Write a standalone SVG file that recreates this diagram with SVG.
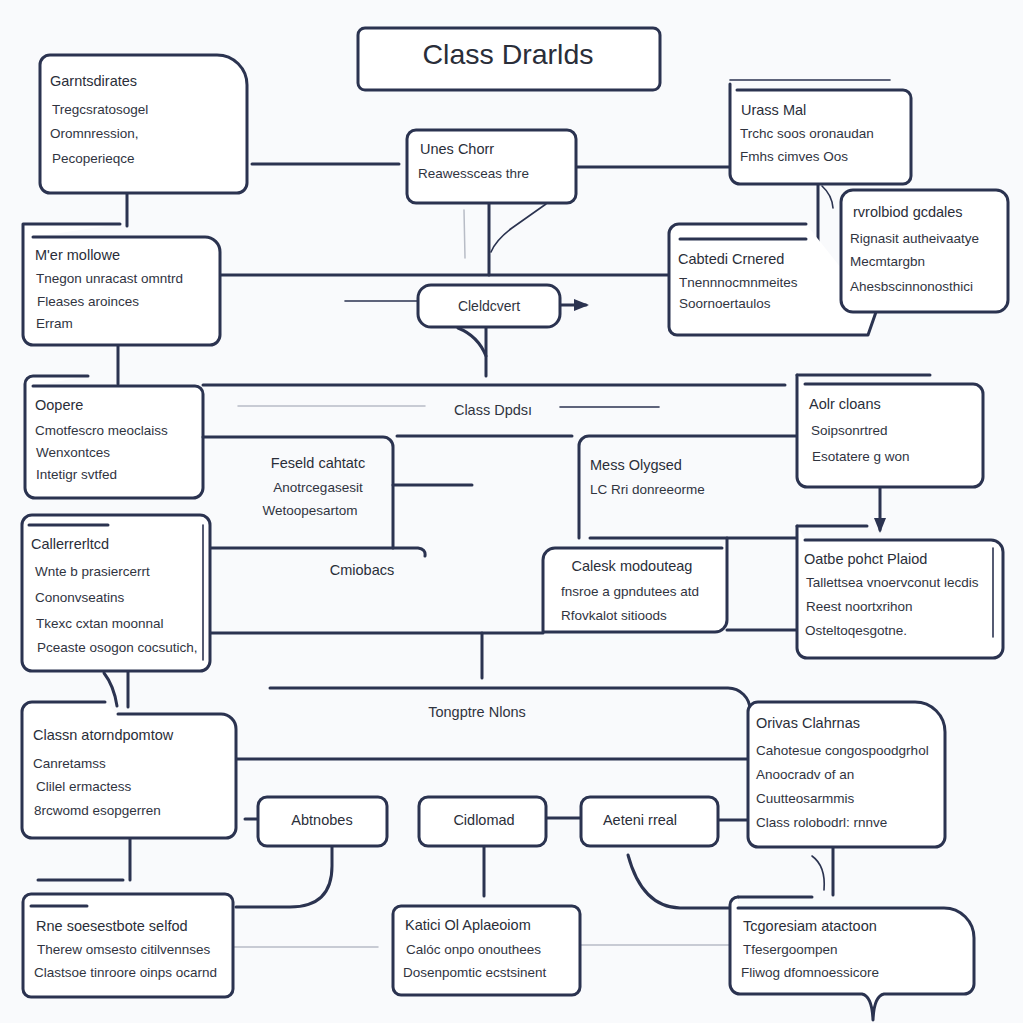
<svg xmlns="http://www.w3.org/2000/svg" width="1023" height="1023" viewBox="0 0 1023 1023">
<style>
.bx{fill:#ffffff;stroke:#2b3350;stroke-width:3;stroke-linejoin:round;stroke-linecap:round}
.ln{fill:none;stroke:#2b3350;stroke-width:3;stroke-linecap:round}
.th{fill:none;stroke:#2b3350;stroke-width:1.6;stroke-linecap:round}
.fa{fill:none;stroke:#b8bcc6;stroke-width:1.5;stroke-linecap:round}
text{font-family:"Liberation Sans",Arial,sans-serif;fill:#30343f}
.h{font-size:14.5px;fill:#2a2e39}
.b{font-size:13.5px}
.c{text-anchor:middle}
</style>
<defs>
<marker id="arr" viewBox="0 0 10 10" refX="8" refY="5" markerWidth="5" markerHeight="5" orient="auto">
<path d="M0,1 L10,5 L0,9 Z" fill="#2b3350"/>
</marker>
</defs>
<rect width="1023" height="1023" fill="#f9fafc"/>

<g id="connectors">
<line class="ln" x1="252" y1="164" x2="399" y2="164"/>
<line class="ln" x1="576" y1="167" x2="730" y2="167"/>
<line class="ln" x1="489" y1="203" x2="489" y2="275"/>
<path class="th" d="M546,204 L512,228 Q496,240 491,252"/>
<line class="fa" x1="464" y1="210" x2="465" y2="258"/>
<line class="ln" x1="127" y1="193" x2="127" y2="226"/>
<line class="ln" x1="220" y1="275" x2="669" y2="275"/>
<line class="ln" x1="818" y1="184" x2="818" y2="252"/>
<path class="th" d="M822,186 Q832,195 833,208"/>
<line class="th" x1="345" y1="301" x2="418" y2="301"/>
<line class="ln" x1="560" y1="305" x2="586" y2="305" marker-end="url(#arr)"/>
<path class="ln" d="M458,328 Q478,336 486,356"/>
<line class="ln" x1="486" y1="327" x2="486" y2="376"/>
<line class="ln" x1="118" y1="345" x2="118" y2="384"/>
<line class="ln" x1="203" y1="385" x2="785" y2="385"/>
<line class="fa" x1="238" y1="406" x2="425" y2="406"/>
<line class="th" x1="560" y1="407" x2="659" y2="407"/>
<line class="ln" x1="397" y1="436" x2="572" y2="436"/>
<line class="ln" x1="393" y1="485" x2="472" y2="485"/>
<line class="ln" x1="880" y1="487" x2="880" y2="530" marker-end="url(#arr)"/>
<line class="ln" x1="210" y1="633" x2="543" y2="633"/>
<line class="ln" x1="727" y1="630" x2="797" y2="630"/>
<line class="ln" x1="482" y1="633" x2="482" y2="678"/>
<line class="ln" x1="128" y1="671" x2="128" y2="707"/>
<path class="ln" d="M104,673 Q114,686 117,706"/>
<path class="ln" d="M270,688 H728 A22,22 0 0 1 750,710"/>
<line class="ln" x1="236" y1="759" x2="748" y2="759"/>
<line class="ln" x1="245" y1="819" x2="258" y2="819"/>
<line class="ln" x1="546" y1="818" x2="581" y2="818"/>
<line class="ln" x1="718" y1="820" x2="748" y2="820"/>
<line class="ln" x1="130" y1="838" x2="130" y2="880"/>
<line class="ln" x1="38" y1="880" x2="123" y2="880"/>
<path class="ln" d="M332,846 V866 Q332,907 290,907 H236"/>
<line class="ln" x1="484" y1="846" x2="484" y2="896"/>
<path class="ln" d="M628,855 Q642,907 680,908 H730"/>
<line class="ln" x1="833" y1="847" x2="833" y2="895"/>
<path class="th" d="M812,856 Q826,866 824,890"/>
<line class="fa" x1="233" y1="947" x2="378" y2="947"/>
<line class="fa" x1="580" y1="945" x2="730" y2="945"/>
</g>

<g id="title">
<rect class="bx" x="358" y="28" width="302" height="62" rx="7"/>
<text x="508" y="64" class="c" style="font-size:28.5px;fill:#2a2e39">Class Drarlds</text>
</g>

<g id="n-garntsdirates">
<path class="bx" d="M50,55 H217 A30,30 0 0 1 247,85 V183 A10,10 0 0 1 237,193 H50 A10,10 0 0 1 40,183 V65 A10,10 0 0 1 50,55 Z"/>
<text x="50" y="86" class="h">Garntsdirates</text>
<text x="52" y="114" class="b">Tregcsratosogel</text>
<text x="50" y="138" class="b">Oromnression,</text>
<text x="52" y="163" class="b">Pecoperieqce</text>
</g>

<g id="n-lines-chort">
<rect class="bx" x="407" y="130" width="169" height="73" rx="9"/>
<text x="420" y="154" class="h">Unes Chorr</text>
<text x="418" y="178" class="b">Reawessceas thre</text>
</g>

<g id="n-urass-mal">
<line class="th" x1="730" y1="80" x2="890" y2="80"/>
<path class="bx" d="M737,90 H903 A8,8 0 0 1 911,98 V176 A8,8 0 0 1 903,184 H740 A10,10 0 0 1 730,174 V84"/>
<text x="741" y="115" class="h">Urass Mal</text>
<text x="740" y="138" class="b">Trchc soos oronaudan</text>
<text x="740" y="161" class="b">Fmhs cimves Oos</text>
</g>

<g id="n-cabtedi">
<path class="bx" d="M806,224 H679 A10,10 0 0 0 669,234 V327 A8,8 0 0 0 677,335 H868 L876,312"/>
<line class="ln" x1="680" y1="239" x2="806" y2="239"/>
<text x="678" y="264" class="h">Cabtedi Crnered</text>
<text x="679" y="287" class="b">Tnennnocmnmeites</text>
<text x="679" y="308" class="b">Soornoertaulos</text>
</g>

<g id="n-mrolbiod">
<rect class="bx" x="841" y="190" width="167" height="122" rx="12"/>
<text x="853" y="217" class="h">rvrolbiod gcdales</text>
<text x="850" y="243" class="b">Rignasit autheivaatye</text>
<text x="850" y="266" class="b">Mecmtargbn</text>
<text x="850" y="291" class="b">Ahesbscinnonosthici</text>
</g>

<g id="n-mer-mollowe">
<path class="bx" d="M33,237 H205 A15,15 0 0 1 220,252 V335 A10,10 0 0 1 210,345 H33 A10,10 0 0 1 23,335 V224 H120"/>
<text x="35" y="260" class="h">M'er mollowe</text>
<text x="36" y="283" class="b">Tnegon unracast omntrd</text>
<text x="37" y="306" class="b">Fleases aroinces</text>
<text x="36" y="328" class="b">Erram</text>
</g>

<g id="n-cleldcvert">
<rect class="bx" x="418" y="285" width="142" height="42" rx="13"/>
<text x="489" y="311" class="c b" style="font-size:14px">Cleldcvert</text>
</g>

<g id="n-oopere">
<path class="bx" d="M88,376 H33 A8,8 0 0 0 25,384 V488 A10,10 0 0 0 35,498 H193 A10,10 0 0 0 203,488 V394 A8,8 0 0 0 195,386 H33"/>
<text x="35" y="410" class="h">Oopere</text>
<text x="35" y="435" class="b">Cmotfescro meoclaiss</text>
<text x="36" y="457" class="b">Wenxontces</text>
<text x="36" y="479" class="b">Intetigr svtfed</text>
</g>

<g id="n-class-dpdsi">
<text x="493" y="415" class="c b" style="font-size:14.5px">Class Dpdsı</text>
</g>

<g id="n-feseld">
<path class="ln" d="M203,437 H383 A10,10 0 0 1 393,447 V548"/>
<path class="ln" d="M210,548 H418 Q426,549 425,556"/>
<text x="318" y="468" class="c h">Feseld cahtatc</text>
<text x="318" y="492" class="c b">Anotrcegasesit</text>
<text x="310" y="515" class="c b">Wetoopesartom</text>
</g>

<g id="n-cmiobacs">
<text x="362" y="575" class="c h">Cmiobacs</text>
</g>

<g id="n-mess-olygsed">
<path class="ln" d="M579,538 V446 A10,10 0 0 1 589,436 H797"/>
<line class="ln" x1="590" y1="538" x2="797" y2="538"/>
<text x="590" y="470" class="h">Mess Olygsed</text>
<text x="590" y="494" class="b">LC Rri donreeorme</text>
</g>

<g id="n-calesk">
<path class="bx" d="M722,548 H555 A12,12 0 0 0 543,560 V632 H715 A12,12 0 0 0 727,620 V538"/>
<text x="632" y="571" class="c h">Calesk modouteag</text>
<text x="561" y="596" class="b">fnsroe a gpndutees atd</text>
<text x="561" y="620" class="b">Rfovkalot sitioods</text>
</g>

<g id="n-aolr-cloans">
<line class="ln" x1="797" y1="375" x2="930" y2="375"/>
<path class="bx" d="M805,384 H973 A10,10 0 0 1 983,394 V477 A10,10 0 0 1 973,487 H807 A10,10 0 0 1 797,477 V375"/>
<text x="809" y="409" class="h">Aolr cloans</text>
<text x="811" y="435" class="b">Soipsonrtred</text>
<text x="812" y="461" class="b">Esotatere g won</text>
</g>

<g id="n-oatbe">
<line class="ln" x1="797" y1="526" x2="867" y2="526"/>
<path class="bx" d="M805,540 H991 A12,12 0 0 1 1003,552 V648 A10,10 0 0 1 993,658 H807 A10,10 0 0 1 797,648 V526"/>
<line class="th" x1="993" y1="548" x2="993" y2="637"/>
<text x="804" y="564" class="h">Oatbe pohct Plaiod</text>
<text x="806" y="587" class="b">Tallettsea vnoervconut lecdis</text>
<text x="806" y="611" class="b">Reest noortxrihon</text>
<text x="805" y="635" class="b">Osteltoqesgotne.</text>
</g>

<g id="n-callerrerltcd">
<rect class="bx" x="22" y="515" width="188" height="156" rx="10"/>
<line class="ln" x1="29" y1="525" x2="108" y2="525"/>
<line class="th" x1="203" y1="525" x2="203" y2="660"/>
<text x="31" y="549" class="h">Callerrerltcd</text>
<text x="35" y="576" class="b">Wnte b prasiercerrt</text>
<text x="35" y="602" class="b">Cononvseatins</text>
<text x="36" y="628" class="b">Tkexc cxtan moonnal</text>
<text x="37" y="652" class="b">Pceaste osogon cocsutich,</text>
</g>

<g id="n-tongptre">
<text x="477" y="717" class="c b" style="font-size:14.5px">Tongptre Nlons</text>
</g>

<g id="n-classn">
<path class="bx" d="M105,702 H32 A10,10 0 0 0 22,712 V828 A10,10 0 0 0 32,838 H226 A10,10 0 0 0 236,828 V729 A15,15 0 0 0 221,714 H118"/>
<text x="33" y="740" class="h">Classn atorndpomtow</text>
<text x="33" y="768" class="b">Canretamss</text>
<text x="36" y="791" class="b">Clilel ermactess</text>
<text x="34" y="815" class="b">8rcwomd esopgerren</text>
</g>

<g id="n-orivas">
<path class="bx" d="M758,702 H915 A30,30 0 0 1 945,732 V837 A10,10 0 0 1 935,847 H758 A10,10 0 0 1 748,837 V712 A10,10 0 0 1 758,702 Z"/>
<text x="756" y="728" class="h">Orivas Clahrnas</text>
<text x="756" y="755" class="b">Cahotesue congospoodgrhol</text>
<text x="756" y="779" class="b">Anoocradv of an</text>
<text x="756" y="803" class="b">Cuutteosarmmis</text>
<text x="756" y="827" class="b">Class rolobodrl: rnnve</text>
</g>

<g id="n-abtnobes">
<rect class="bx" x="258" y="797" width="129" height="49" rx="9"/>
<text x="322" y="825" class="c h">Abtnobes</text>
</g>

<g id="n-cidlomad">
<rect class="bx" x="419" y="797" width="127" height="49" rx="9"/>
<text x="484" y="825" class="c h">Cidlomad</text>
</g>

<g id="n-aeteni">
<rect class="bx" x="581" y="797" width="137" height="49" rx="9"/>
<text x="640" y="825" class="c h">Aeteni rreal</text>
</g>

<g id="n-rnesoes">
<rect class="bx" x="23" y="894" width="210" height="103" rx="8"/>
<line class="ln" x1="31" y1="906" x2="87" y2="906"/>
<text x="36" y="931" class="h">Rne soesestbote selfod</text>
<text x="37" y="954" class="b">Therew omsesto citilvennses</text>
<text x="34" y="977" class="b">Clastsoe tinroore oinps ocarnd</text>
</g>

<g id="n-katici">
<rect class="bx" x="393" y="906" width="187" height="89" rx="8"/>
<text x="405" y="930" class="h">Katici Ol Aplaeoiom</text>
<text x="406" y="954" class="b">Calóc onpo onouthees</text>
<text x="403" y="977" class="b">Dosenpomtic ecstsinent</text>
</g>

<g id="n-tcgoresiam">
<line class="ln" x1="738" y1="897" x2="812" y2="897"/>
<path class="bx" d="M738,908 H944 A30,30 0 0 1 974,938 V984 A10,10 0 0 1 964,994 H884 Q874,996 873,1020 Q872,996 862,994 H740 A10,10 0 0 1 730,984 V905 A8,8 0 0 1 738,897"/>
<text x="743" y="931" class="h">Tcgoresiam atactoon</text>
<text x="743" y="954" class="b">Tfesergoompen</text>
<text x="741" y="977" class="b">Fliwog dfomnoessicore</text>
</g>
</svg>
